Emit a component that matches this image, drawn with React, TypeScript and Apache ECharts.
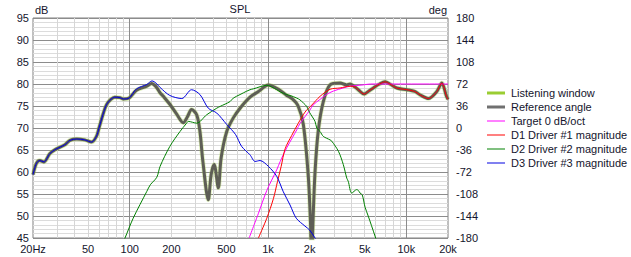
import React, { useEffect, useRef } from "react";
import * as echarts from "echarts";

// ---- data (frequency in Hz, level in dB) ----
const d3Freq = [20, 21.2, 22.4, 24, 26.5, 29.3, 34, 37, 41.4, 47.3, 53, 57.5, 60, 64, 68, 73, 78, 85, 90, 99, 112, 133, 145, 155, 166, 195, 238, 280, 322, 370, 426, 503, 583, 645, 741, 806, 875, 1005, 1156, 1290, 1443, 1600, 1850, 2000, 2187, 2300];
const d3Db = [59.4, 62.0, 62.6, 62.3, 64.2, 65.2, 66.2, 67.2, 67.5, 67.3, 66.8, 68.1, 70.0, 73.0, 75.3, 76.5, 77.0, 76.9, 76.6, 76.8, 78.9, 79.9, 80.7, 80.2, 79.2, 77.4, 76.7, 78.7, 77.6, 74.5, 73.4, 70.8, 68.5, 65.8, 63.9, 62.4, 62.6, 61.3, 59.0, 55.5, 52.5, 49.5, 47.7, 46.8, 45.0, 44.0];

const refFreq = [20, 21.2, 22.4, 24, 26.5, 29.3, 34, 37, 41.4, 47.3, 53, 57.5, 60, 64, 68, 73, 78, 85, 90, 99, 112, 133, 144, 155, 166, 175, 195, 218, 244, 261, 280, 305, 322, 338, 370, 388, 408, 437, 458, 503, 561, 628, 741, 852, 1005, 1190, 1365, 1500, 1650, 1800, 1955, 2030, 2070, 2110, 2187, 2310, 2510, 2808, 3317, 3709, 3920, 4260, 4600, 4950, 5300, 5770, 6400, 7020, 7600, 8520, 10100, 11500, 12600, 14430, 16600, 18030, 19500, 20000];
const refDb = [59.4, 62.0, 62.6, 62.3, 64.2, 65.2, 66.2, 67.2, 67.5, 67.3, 66.8, 68.1, 70.0, 73.0, 75.3, 76.5, 77.0, 76.9, 76.6, 76.8, 78.6, 79.5, 80.1, 79.4, 78.0, 77.2, 75.4, 73.2, 71.2, 72.5, 74.2, 73.0, 69.2, 62.4, 53.7, 59.4, 61.7, 56.4, 63.2, 69.2, 72.3, 74.5, 77.0, 78.3, 79.8, 78.8, 77.4, 76.6, 75.0, 70.8, 59.0, 48.0, 38.0, 48.0, 60.0, 69.5, 76.0, 79.8, 80.2, 79.8, 80.0, 79.3, 78.4, 77.7, 78.3, 79.1, 80.0, 80.5, 80.0, 79.1, 78.7, 78.3, 77.5, 76.7, 78.3, 80.2, 77.2, 76.5];

const targetFreq = [730, 850, 980, 1156, 1225, 1365, 1500, 1614, 1700, 2000, 2130, 2378, 2640, 2970, 3500, 3920, 4890, 5500, 20000];
const targetDb = [45.0, 50.5, 55.8, 60.5, 62.4, 65.5, 67.8, 69.6, 71.0, 74.0, 75.3, 76.5, 77.6, 78.4, 79.1, 79.5, 79.8, 80.0, 80.0];

const d1Freq = [852, 980, 1095, 1170, 1245, 1330, 1483, 1650, 1850, 2070, 2378, 2808, 3317, 3920, 4260, 4600, 4950, 5300, 5770, 6400, 7020, 7600, 8520, 10100, 11500, 12600, 14430, 16600, 18030, 19500, 20000];
const d1Db = [45.0, 49.5, 54.0, 57.8, 61.3, 65.3, 68.3, 71.0, 73.6, 75.2, 77.2, 78.8, 79.1, 79.5, 79.3, 78.4, 77.7, 78.3, 79.1, 80.0, 80.5, 80.0, 79.1, 78.7, 78.3, 77.5, 76.7, 78.3, 80.2, 77.2, 76.5];

const d2Freq = [88, 92.5, 106, 133, 141, 157, 166, 195, 231, 258, 265, 305, 360, 426, 450, 531, 561, 628, 664, 741, 784, 980, 1156, 1225, 1365, 1443, 1614, 1700, 1904, 2000, 2187, 2250, 2378, 2510, 2808, 2890, 3230, 3500, 3709, 3800, 4030, 4380, 4500, 4630, 4800, 5030, 5300, 5600, 6000, 6300];
const d2Db = [43.5, 45.0, 49.5, 55.6, 57.1, 58.8, 61.3, 65.8, 69.2, 71.1, 71.5, 71.1, 73.0, 74.5, 74.9, 76.0, 76.8, 77.6, 78.0, 78.7, 78.9, 79.7, 78.7, 78.2, 77.6, 77.4, 76.8, 76.4, 74.9, 73.5, 71.5, 70.0, 69.2, 68.1, 67.3, 67.0, 64.7, 61.7, 58.6, 57.9, 55.2, 56.0, 55.8, 55.2, 54.8, 52.0, 50.0, 47.8, 45.0, 43.0];

// ---- axes ----
const freqLabelValues = [20, 50, 100, 200, 500, 1000, 2000, 5000, 10000, 20000];
const freqLabelTexts = ["20Hz", "50", "100", "200", "500", "1k", "2k", "5k", "10k", "20k"];
const freqMajorGrid = [100, 1000, 10000];
const freqMinorGrid = [30, 40, 50, 60, 70, 80, 90, 200, 300, 400, 500, 600, 700, 800, 900, 2000, 3000, 4000, 5000, 6000, 7000, 8000, 9000];
const dbMin = 45;
const dbMax = 95;
const degMin = -180;
const degMax = 180;

const legendNames = ["Listening window", "Reference angle", "Target 0 dB/oct", "D1 Driver #1 magnitude", "D2 Driver #2 magnitude", "D3 Driver #3 magnitude"];

const FONT = "'Liberation Sans', Arial, sans-serif";
const TXT = "#14142c";

// legend icons: a horizontal band inside an 18x14 box (corner moves fix the box)
const thinIcon = "path://M0,0 L0,0 M0,6.5 L18,6.5 L18,7.5 L0,7.5 Z M18,14 L18,14";
const thickIcon = "path://M0,0 L0,0 M0,5.5 L18,5.5 L18,8.5 L0,8.5 Z M18,14 L18,14";

const pairs = (f: number[], v: number[]) => f.map((x, i) => [x, v[i]]);

export default function App() {
  const ref = useRef<HTMLDivElement>(null);
  useEffect(() => {
    if (!ref.current) return;
    const chart = echarts.init(ref.current, null, { renderer: "svg" });
    const lineSeries = (name: string, data: number[][], color: string, width: number, opacity = 1) => ({
      name,
      type: "line",
      xAxisIndex: 1,
      yAxisIndex: 1,
      data,
      symbol: "none",
      smooth: 0.3,
      clip: true,
      lineStyle: { color, width, opacity },
      itemStyle: { color },
      emphasis: { disabled: true },
    });
    const legendColors = ["#9acd32", "#707070", "#ff00ff", "#ff0000", "#008000", "#0000e0"];
    chart.setOption({
      animation: false,
      backgroundColor: "#ffffff",
      grid: {
        left: 33,
        top: 18,
        width: 415,
        height: 220,
        show: true,
        borderColor: "#808080",
        borderWidth: 1,
        backgroundColor: "transparent",
        containLabel: false,
      },
      graphic: [
        { type: "text", x: 240, y: 3, style: { text: "SPL", font: `11px ${FONT}`, fill: TXT, textAlign: "center" } },
        { type: "text", x: 35, y: 4, style: { text: "dB", font: `11px ${FONT}`, fill: TXT } },
        { type: "text", x: 447, y: 4, style: { text: "deg", font: `11px ${FONT}`, fill: TXT, textAlign: "right" } },
      ],
      legend: {
        orient: "vertical",
        left: 482,
        top: 81,
        itemWidth: 18,
        itemHeight: 14,
        itemGap: 0,
        selectedMode: false,
        textStyle: { fontFamily: FONT, fontSize: 11, color: TXT, padding: [0, 0, 0, 1] },
        data: legendNames.map((n, i) => ({
          name: n,
          icon: i < 2 ? thickIcon : thinIcon,
          itemStyle: { color: legendColors[i], opacity: 1, borderWidth: 0 },
        })),
      },
      xAxis: [
        {
          type: "log",
          logBase: 10,
          min: 20,
          max: 20000,
          position: "bottom",
          axisLine: { show: false },
          axisTick: { show: false, customValues: freqMinorGrid },
          axisLabel: { show: false },
          splitLine: { show: true, lineStyle: { color: "#d6d6d6", width: 1 } },
        },
        {
          type: "log",
          logBase: 10,
          min: 20,
          max: 20000,
          position: "bottom",
          axisLine: { show: false },
          axisTick: { show: false, customValues: freqMajorGrid },
          axisLabel: {
            show: true,
            customValues: freqLabelValues,
            margin: 5,
            fontFamily: FONT,
            fontSize: 11,
            color: TXT,
            hideOverlap: false,
            showMinLabel: true,
            showMaxLabel: true,
            formatter: (v: number) => {
              const idx = freqLabelValues.findIndex((f) => Math.abs(f - v) / f < 0.01);
              return idx >= 0 ? freqLabelTexts[idx] : "";
            },
          },
          splitLine: { show: true, lineStyle: { color: "#8c8c8c", width: 1 } },
        },
      ],
      yAxis: [
        {
          type: "value",
          position: "left",
          min: dbMin,
          max: dbMax,
          interval: 1,
          axisLine: { show: false },
          axisTick: { show: false },
          axisLabel: { show: false },
          splitLine: { show: true, lineStyle: { color: "#dcdcdc", width: 1 } },
        },
        {
          type: "value",
          position: "left",
          min: dbMin,
          max: dbMax,
          interval: 5,
          axisLine: { show: false },
          axisTick: { show: false },
          axisLabel: { margin: 4, fontFamily: FONT, fontSize: 11, color: TXT },
          splitLine: { show: true, lineStyle: { color: "#8c8c8c", width: 1 } },
        },
        {
          type: "value",
          position: "right",
          min: degMin,
          max: degMax,
          interval: 36,
          axisLine: { show: false },
          axisTick: { show: false },
          axisLabel: { margin: 8, fontFamily: FONT, fontSize: 11, color: TXT },
          splitLine: { show: false },
        },
      ],
      series: [
        lineSeries(legendNames[0], pairs(refFreq, refDb), "#9acd32", 4.5, 0.35),
        lineSeries(legendNames[1], pairs(refFreq, refDb), "#5e5e56", 3),
        lineSeries(legendNames[2], pairs(targetFreq, targetDb), "#ff00ff", 1),
        lineSeries(legendNames[3], pairs(d1Freq, d1Db), "#ff0000", 1),
        lineSeries(legendNames[4], pairs(d2Freq, d2Db), "#008000", 1),
        lineSeries(legendNames[5], pairs(d3Freq, d3Db), "#0000e0", 1),
      ],
    });
    return () => chart.dispose();
  }, []);
  return <div ref={ref} style={{ position: "absolute", left: 0, top: 0, width: 631, height: 257 }} />;
}
